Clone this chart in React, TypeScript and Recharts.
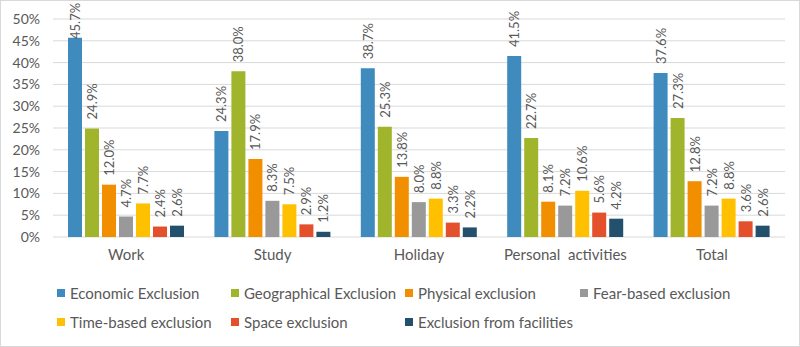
import React from 'react';
import { BarChart, Bar, XAxis, YAxis, CartesianGrid, Legend, LabelList } from 'recharts';

const categories = ['Work', 'Study', 'Holiday', 'Personal  activities', 'Total'];
const economic = [45.7, 24.3, 38.7, 41.5, 37.6];
const geographical = [24.9, 38.0, 25.3, 22.7, 27.3];
const physical = [12.0, 17.9, 13.8, 8.1, 12.8];
const fearBased = [4.7, 8.3, 8.0, 7.2, 7.2];
const timeBased = [7.7, 7.5, 8.8, 10.6, 8.8];
const space = [2.4, 2.9, 3.3, 5.6, 3.6];
const facilities = [2.6, 1.2, 2.2, 4.2, 2.6];
const yTicks = [0, 5, 10, 15, 20, 25, 30, 35, 40, 45, 50];

const series = [
  { key: 'economic', name: 'Economic Exclusion', values: economic, color: '#3F8BBE' },
  { key: 'geographical', name: 'Geographical Exclusion', values: geographical, color: '#A0B52C' },
  { key: 'physical', name: 'Physical exclusion', values: physical, color: '#F28F00' },
  { key: 'fear', name: 'Fear-based exclusion', values: fearBased, color: '#999999' },
  { key: 'time', name: 'Time-based exclusion', values: timeBased, color: '#FFC000' },
  { key: 'space', name: 'Space exclusion', values: space, color: '#E4502B' },
  { key: 'facilities', name: 'Exclusion from facilities', values: facilities, color: '#23506D' },
];

const data = categories.map((c, i) => {
  const row: any = { category: c };
  series.forEach((s) => (row[s.key] = s.values[i]));
  return row;
});

const FONT = 'Lato, "Open Sans", sans-serif';
const TEXT = '#595959';

const renderLabel = (props: any) => {
  const { x, y, width, value } = props;
  const cx = x + width / 2;
  const cy = Math.max(y - 9, 39);
  return (
    <text
      x={cx}
      y={cy}
      transform={`rotate(-90 ${cx} ${cy})`}
      textAnchor="start"
      dominantBaseline="central"
      fill={TEXT}
      fontSize={13}
      fontFamily={FONT}
    >
      {Number(value).toFixed(1)}%
    </text>
  );
};

const CatTick = (props: any) => {
  const { x, y, payload } = props;
  return (
    <text
      x={x}
      y={y}
      dy="0.71em"
      textAnchor="middle"
      fill={TEXT}
      fontSize={15}
      fontFamily={FONT}
      xmlSpace="preserve"
      style={{ whiteSpace: 'pre' }}
    >
      {payload.value}
    </text>
  );
};

const colX = [57, 231, 405, 580];
const rowY = [26, 55];

const LegendContent = () => {
  return (
    <div style={{ position: 'relative', width: 800, height: 75 }}>
      {series.map((s, i) => {
        const col = i % 4;
        const row = Math.floor(i / 4);
        return (
          <div
            key={s.key}
            style={{
              position: 'absolute',
              left: colX[col],
              top: rowY[row] - 10,
              height: 20,
              display: 'flex',
              alignItems: 'center',
              whiteSpace: 'nowrap',
              fontFamily: FONT,
              fontSize: 15,
              color: TEXT,
            }}
          >
            <span style={{ display: 'inline-block', width: 8, height: 8, background: s.color, marginRight: 5 }} />
            <span>{s.name}</span>
          </div>
        );
      })}
    </div>
  );
};

export default function App() {
  return (
    <div
      style={{
        position: 'absolute',
        left: 0,
        top: 0,
        width: 800,
        height: 347,
        background: '#fff',
        boxSizing: 'border-box',
        border: '1px solid #d9d9d9',
      }}
    >
      <div style={{ position: 'absolute', left: -1, top: -1 }}>
        <BarChart
          width={800}
          height={347}
          data={data}
          margin={{ top: 19, right: 15, left: 0, bottom: 5 }}
          barCategoryGap={15}
          barGap={3}
        >
          <CartesianGrid vertical={false} stroke="#d9d9d9" />
          <XAxis
            dataKey="category"
            axisLine={false}
            tickLine={false}
            tickSize={6}
            tickMargin={6}
            height={30}
            tick={<CatTick />}
            interval={0}
          />
          <YAxis
            domain={[0, 50]}
            ticks={yTicks}
            axisLine={false}
            tickLine={false}
            tickSize={6}
            tickMargin={7}
            width={53}
            tickFormatter={(v: number) => `${v}%`}
            tick={{ fill: TEXT, fontSize: 14, fontFamily: FONT }}
            interval={0}
          />
          <Legend verticalAlign="bottom" height={75} content={<LegendContent />} wrapperStyle={{ left: 0, width: 800 }} />
          {series.map((s) => (
            <Bar key={s.key} dataKey={s.key} name={s.name} fill={s.color} isAnimationActive={false}>
              <LabelList dataKey={s.key} content={renderLabel} />
            </Bar>
          ))}
        </BarChart>
      </div>
    </div>
  );
}
